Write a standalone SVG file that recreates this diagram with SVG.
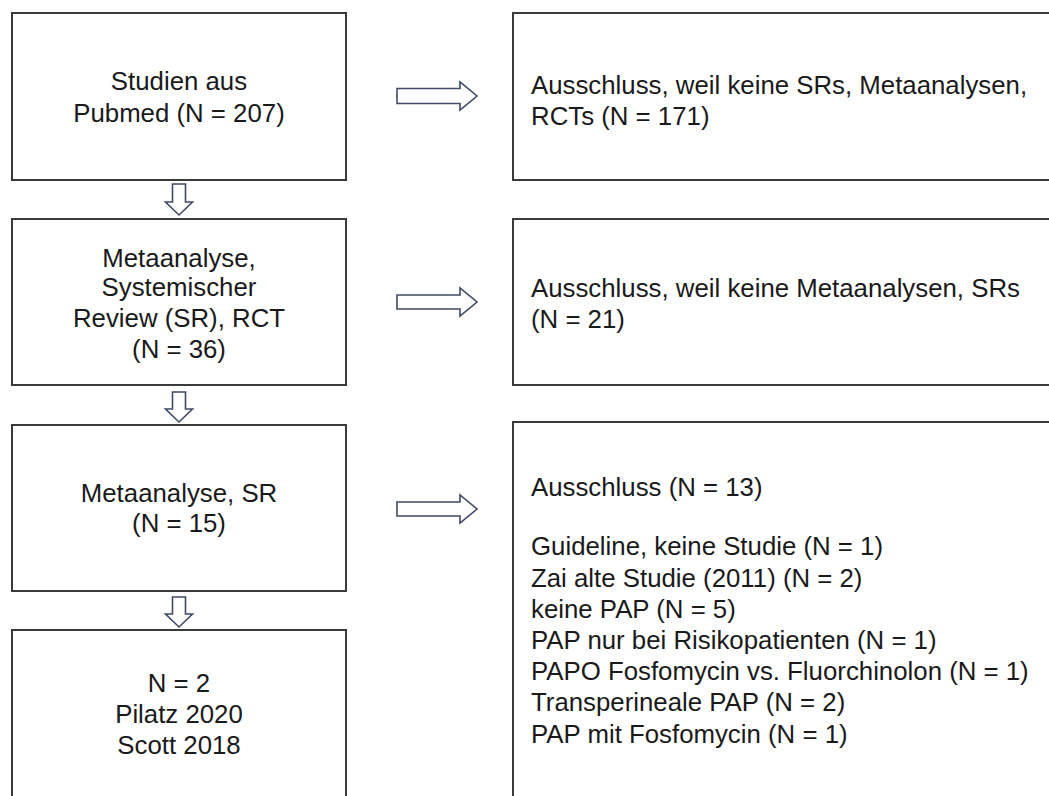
<svg xmlns="http://www.w3.org/2000/svg" width="1049" height="796" viewBox="0 0 1049 796">
<style>
.box{fill:#fff;stroke:#3a3a3a;stroke-width:2}
.arr{fill:#fff;stroke:#3e4a66;stroke-width:1.6;stroke-linejoin:miter}
.tl{font-family:"Liberation Sans",Arial,sans-serif;font-size:25.8px;fill:#1a1a1a;text-anchor:middle}
.tr{font-family:"Liberation Sans",Arial,sans-serif;font-size:25.8px;fill:#1a1a1a}
</style>
<rect x="0" y="0" width="1049" height="796" fill="#fff"/>
<g id="n1"><rect class="box" x="12" y="13" width="334" height="167"/>
<text class="tl" x="179" y="90">Studien aus</text><text class="tl" x="179" y="122">Pubmed (N = 207)</text></g>
<g id="n2"><rect class="box" x="12" y="219" width="334" height="166"/>
<text class="tl" x="179" y="267">Metaanalyse,</text><text class="tl" x="179" y="296">Systemischer</text><text class="tl" x="179" y="327">Review (SR), RCT</text><text class="tl" x="179" y="358">(N = 36)</text></g>
<g id="n3"><rect class="box" x="12" y="425" width="334" height="166"/>
<text class="tl" x="179" y="502">Metaanalyse, SR</text><text class="tl" x="179" y="532">(N = 15)</text></g>
<g id="n4"><rect class="box" x="12" y="630" width="334" height="200"/>
<text class="tl" x="179" y="692">N = 2</text><text class="tl" x="179" y="723">Pilatz 2020</text><text class="tl" x="179" y="754">Scott 2018</text></g>
<g id="r1"><rect class="box" x="513" y="13" width="560" height="167"/>
<text class="tr" x="531" y="94">Ausschluss, weil keine SRs, Metaanalysen,</text><text class="tr" x="531" y="125">RCTs (N = 171)</text></g>
<g id="r2"><rect class="box" x="513" y="219" width="560" height="166"/>
<text class="tr" x="531" y="297">Ausschluss, weil keine Metaanalysen, SRs</text><text class="tr" x="531" y="328">(N = 21)</text></g>
<g id="r3"><rect class="box" x="513" y="422" width="560" height="400"/>
<text class="tr" x="531" y="496">Ausschluss (N = 13)</text>
<text class="tr" x="531" y="555">Guideline, keine Studie (N = 1)</text>
<text class="tr" x="531" y="587">Zai alte Studie (2011) (N = 2)</text>
<text class="tr" x="531" y="618">keine PAP (N = 5)</text>
<text class="tr" x="531" y="649">PAP nur bei Risikopatienten (N = 1)</text>
<text class="tr" x="531" y="680">PAPO Fosfomycin vs. Fluorchinolon (N = 1)</text>
<text class="tr" x="531" y="711">Transperineale PAP (N = 2)</text>
<text class="tr" x="531" y="743">PAP mit Fosfomycin (N = 1)</text></g>
<g id="connectors">
<path class="arr" d="M172.5 184 H185.5 V202 H192.5 L179 215 L165.5 202 H172.5 Z"/>
<path class="arr" d="M172.5 392 H185.5 V409 H192.5 L179 422 L165.5 409 H172.5 Z"/>
<path class="arr" d="M172.5 597 H185.5 V614 H192.5 L179 627 L165.5 614 H172.5 Z"/>
<path class="arr" d="M397 88.5 H460 V82 L477 96 L460 110 V103.5 H397 Z"/>
<path class="arr" d="M397 295 H460 V288 L477 302 L460 316 V309 H397 Z"/>
<path class="arr" d="M397 502 H460 V495 L477 509 L460 523 V516 H397 Z"/>
</g>
</svg>
